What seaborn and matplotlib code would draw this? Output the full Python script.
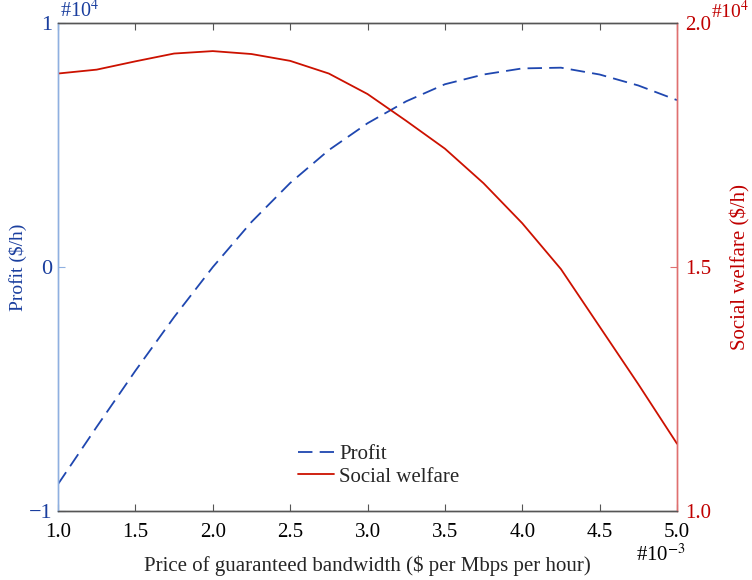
import matplotlib
matplotlib.use("Agg")
import matplotlib.pyplot as plt
import seaborn as sns
import pandas as pd

# Data (profit in 1e4 $/h, welfare in 1e4 $/h, price in 1e-3 $)
price = [1.0, 1.25, 1.5, 1.75, 2.0, 2.25, 2.5, 2.75, 3.0, 3.25, 3.5, 3.75, 4.0, 4.25, 4.5, 4.75, 5.0]
profit = [-0.89, -0.655, -0.425, -0.205, 0.0, 0.185, 0.345, 0.48, 0.59, 0.68, 0.75, 0.79, 0.815, 0.818, 0.79, 0.745, 0.685]
welfare = [1.897, 1.905, 1.922, 1.938, 1.943, 1.937, 1.923, 1.897, 1.855, 1.80, 1.743, 1.672, 1.59, 1.496, 1.378, 1.26, 1.138]
xticks = [1.0, 1.5, 2.0, 2.5, 3.0, 3.5, 4.0, 4.5, 5.0]
left_ticks = [-1, 0, 1]
left_ticklabels = ["\u22121", "0", "1"]
right_ticks = [1.0, 1.5, 2.0]

BLUE = "#1a3e9e"
BLUE_LINE = "#1f47b0"
BLUE_SPINE = "#8fb0e0"
RED = "#c00000"
RED_LINE = "#cc1100"
RED_SPINE = "#e07070"
GRAY = "#555555"

sns.set_style("white")
plt.rcParams["font.family"] = ["Liberation Serif", "DejaVu Serif"]
plt.rcParams["mathtext.fontset"] = "stix"

df1 = pd.DataFrame({"price": price, "value": profit})
df2 = pd.DataFrame({"price": price, "value": welfare})

fig = plt.figure(figsize=(7.52, 5.80), dpi=100)
ax = fig.add_axes([58/752, 1-511/580, (677-58)/752, (511-23.3)/580])
ax2 = ax.twinx()

sns.lineplot(data=df1, x="price", y="value", ax=ax, color=BLUE_LINE, lw=1.3,
             label="Profit", legend=False)
ax.lines[0].set_dashes((8, 4))
sns.lineplot(data=df2, x="price", y="value", ax=ax2, color=RED_LINE, lw=1.3,
             label="Social welfare", legend=False)

ax.set_xlim(1.0, 5.0)
ax.set_ylim(-1, 1)
ax2.set_ylim(1.0, 2.0)
ax.set_xticks(xticks)
ax.set_xticklabels([f"{t:.1f}" for t in xticks])
ax.set_yticks(left_ticks)
ax.set_yticklabels(left_ticklabels)
ax2.set_yticks(right_ticks)
ax2.set_yticklabels([f"{t:.1f}" for t in right_ticks])

ax.tick_params(axis="x", direction="in", top=True, bottom=True, length=5,
               color=GRAY, labelsize=15, labelcolor="black", pad=8.5)
ax.tick_params(axis="y", direction="in", length=5, color=BLUE_SPINE,
               labelsize=16, labelcolor=BLUE, pad=4)
ax2.tick_params(axis="y", direction="in", length=5, color=RED_SPINE,
                labelsize=15, labelcolor=RED, pad=6)

for a in (ax, ax2):
    a.spines["top"].set_color(GRAY)
    a.spines["bottom"].set_color(GRAY)
    a.spines["left"].set_color(BLUE_SPINE)
    a.spines["right"].set_color(RED_SPINE)
    for s in a.spines.values():
        s.set_linewidth(1.0)

ax.set_xlabel("Price of guaranteed bandwidth ($ per Mbps per hour)", fontsize=15, labelpad=10)
ax.set_ylabel("Profit ($/h)", fontsize=14, color=BLUE, labelpad=1)
ax2.set_ylabel("Social welfare ($/h)", fontsize=15, color=RED, labelpad=14)

fig.text(60/752, 1-17/580, r"#10$^{4}$", fontsize=14.5, color=BLUE, va="baseline", ha="left")
fig.text(711/752, 1-18/580, r"#10$^{4}$", fontsize=14, color=RED, va="baseline", ha="left")
fig.text(636/752, 1-561/580, r"#10$^{-3}$", fontsize=15, color="black", va="baseline", ha="left")

h1, l1 = ax.get_legend_handles_labels()
h2, l2 = ax2.get_legend_handles_labels()
ax.legend(h1 + h2, l1 + l2, loc="lower center", bbox_to_anchor=(0.518, 0.02),
          frameon=False, fontsize=15, handlelength=1.75, handletextpad=0.25,
          labelspacing=0.15, borderpad=0.2)

fig.savefig("out.png", dpi=100)
